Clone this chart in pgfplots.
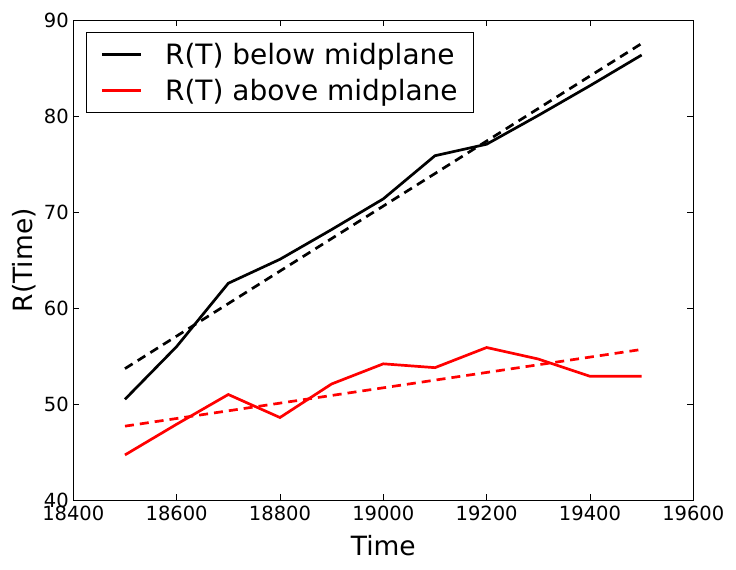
\documentclass[border=0pt]{standalone}
\usepackage{fontspec}
\setmainfont{DejaVu Sans}
\usepackage{pgfplots}
\pgfplotsset{compat=1.18}

\begin{document}
\begin{tikzpicture}
  \begin{axis}[
    scale only axis,
    width=620pt, height=479.5pt,
    xmin=18400, xmax=19600,
    ymin=40, ymax=90,
    xtick={18400,18600,...,19600},
    ytick={40,50,...,90},
    scaled x ticks=false,
    /pgf/number format/.cd, 1000 sep={}, assume math mode=true,
    /pgfplots/.cd,
    tick align=inside,
    xtick pos=both, ytick pos=both,
    major tick length=6pt,
    minor tick num=0,
    axis line style={line width=1pt},
    tick style={line width=0.8pt, black},
    ticklabel style={font=\fontsize{19.5}{23}\selectfont},
    xticklabel style={yshift=-2pt},
    yticklabel style={xshift=-1pt},
    xlabel={Time},
    ylabel={R(Time)},
    label style={font=\fontsize{26.5}{32}\selectfont},
    xlabel style={yshift=-8pt},
    ylabel style={yshift=1pt},
    legend style={
      at={(0.0205,0.975)}, anchor=north west,
      font=\fontsize{28}{33}\selectfont,
      draw=black, line width=0.8pt,
      inner xsep=14pt, inner ysep=8.5pt,
      row sep=9pt, column sep=21pt,
      cells={anchor=west},
    },
    legend image code/.code={
      \draw[#1, line width=2.7pt] (0pt,0pt) -- (39pt,0pt);
    },
  ]
    % below midplane
    \addplot[black, line width=2.7pt] coordinates {
      (18500,50.5) (18600,56.0) (18700,62.6) (18800,65.1) (18900,68.2) (19000,71.4)
      (19100,75.9) (19200,77.1) (19300,80.1) (19400,83.2) (19500,86.4)
    };
    \addlegendentry{R(T) below midplane}
    % above midplane
    \addplot[red, line width=2.7pt] coordinates {
      (18500,44.7) (18600,47.9) (18700,51.0) (18800,48.6) (18900,52.1) (19000,54.2)
      (19100,53.8) (19200,55.9) (19300,54.7) (19400,52.9) (19500,52.9)
    };
    \addlegendentry{R(T) above midplane}
    % linear fits
    \addplot[black, line width=2.7pt, dash pattern=on 9pt off 6pt, forget plot] coordinates {
      (18500,53.7) (19500,87.6)
    };
    \addplot[red, line width=2.7pt, dash pattern=on 9pt off 6pt, forget plot] coordinates {
      (18500,47.7) (19500,55.7)
    };
  \end{axis}
  \pgfresetboundingbox
  \path[use as bounding box] (current axis.south west) ++(-73.3pt,-70pt) rectangle ++(736pt,570pt);
\end{tikzpicture}
\end{document}
